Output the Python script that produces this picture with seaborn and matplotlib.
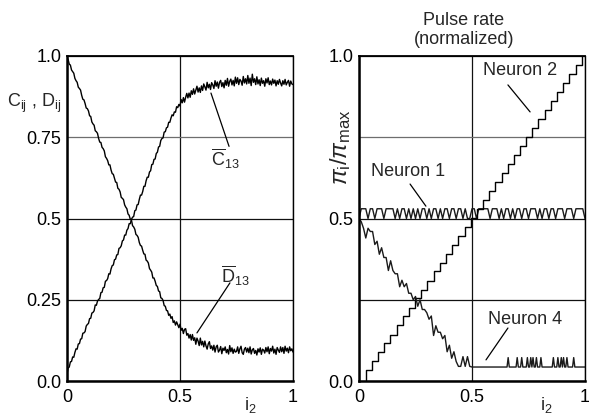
import numpy as np
import pandas as pd
import matplotlib
matplotlib.use('Agg')
import matplotlib.pyplot as plt
import seaborn as sns

# ---------------- data ----------------
i2_grid = np.linspace(0, 1, 201)

c13 = [
    0.022, 0.040, 0.043, 0.059, 0.060, 0.074, 0.073, 0.088, 0.099, 0.098,
    0.114, 0.115, 0.129, 0.130, 0.147, 0.148, 0.152, 0.169, 0.174, 0.177,
    0.192, 0.193, 0.209, 0.211, 0.216, 0.234, 0.233, 0.246, 0.251, 0.254,
    0.272, 0.273, 0.287, 0.288, 0.307, 0.309, 0.315, 0.330, 0.329, 0.345,
    0.355, 0.357, 0.373, 0.375, 0.388, 0.389, 0.408, 0.410, 0.416, 0.431,
    0.434, 0.449, 0.449, 0.464, 0.469, 0.484, 0.484, 0.497, 0.504, 0.506,
    0.524, 0.526, 0.542, 0.543, 0.559, 0.572, 0.572, 0.583, 0.599, 0.599,
    0.616, 0.627, 0.627, 0.643, 0.647, 0.666, 0.667, 0.682, 0.683, 0.700,
    0.704, 0.720, 0.722, 0.740, 0.746, 0.748, 0.766, 0.767, 0.779, 0.781,
    0.796, 0.796, 0.809, 0.819, 0.816, 0.828, 0.827, 0.844, 0.841, 0.851,
    0.846, 0.866, 0.856, 0.872, 0.858, 0.873, 0.885, 0.871, 0.886, 0.873,
    0.893, 0.882, 0.899, 0.883, 0.895, 0.907, 0.889, 0.902, 0.888, 0.908,
    0.894, 0.914, 0.905, 0.895, 0.919, 0.902, 0.913, 0.897, 0.918, 0.911,
    0.900, 0.924, 0.907, 0.920, 0.901, 0.919, 0.925, 0.906, 0.918, 0.902,
    0.925, 0.910, 0.931, 0.907, 0.922, 0.929, 0.911, 0.925, 0.908, 0.935,
    0.916, 0.933, 0.912, 0.928, 0.923, 0.910, 0.937, 0.917, 0.930, 0.914,
    0.940, 0.916, 0.932, 0.909, 0.944, 0.919, 0.930, 0.912, 0.936, 0.914,
    0.927, 0.909, 0.932, 0.916, 0.924, 0.907, 0.930, 0.917, 0.933, 0.912,
    0.923, 0.911, 0.929, 0.916, 0.926, 0.908, 0.924, 0.913, 0.928, 0.917,
    0.908, 0.924, 0.913, 0.928, 0.911, 0.919, 0.925, 0.907, 0.923, 0.914,
    0.912,
]

d13 = [
    0.995, 0.989, 0.975, 0.972, 0.957, 0.952, 0.947, 0.931, 0.924, 0.919,
    0.904, 0.900, 0.895, 0.879, 0.867, 0.865, 0.854, 0.840, 0.838, 0.831,
    0.816, 0.814, 0.797, 0.791, 0.787, 0.770, 0.767, 0.762, 0.746, 0.735,
    0.734, 0.719, 0.715, 0.708, 0.690, 0.685, 0.678, 0.665, 0.665, 0.649,
    0.638, 0.636, 0.624, 0.612, 0.611, 0.593, 0.590, 0.582, 0.565, 0.562,
    0.558, 0.542, 0.535, 0.530, 0.514, 0.510, 0.498, 0.496, 0.478, 0.474,
    0.467, 0.451, 0.448, 0.442, 0.426, 0.417, 0.415, 0.402, 0.391, 0.390,
    0.372, 0.369, 0.363, 0.346, 0.341, 0.335, 0.317, 0.317, 0.307, 0.294,
    0.291, 0.277, 0.275, 0.256, 0.254, 0.248, 0.232, 0.230, 0.217, 0.216,
    0.202, 0.206, 0.193, 0.198, 0.180, 0.185, 0.172, 0.182, 0.173, 0.164,
    0.175, 0.156, 0.162, 0.146, 0.159, 0.161, 0.141, 0.146, 0.132, 0.143,
    0.126, 0.143, 0.125, 0.133, 0.113, 0.132, 0.123, 0.109, 0.132, 0.111,
    0.122, 0.105, 0.123, 0.108, 0.098, 0.114, 0.121, 0.100, 0.108, 0.095,
    0.110, 0.089, 0.105, 0.110, 0.089, 0.095, 0.106, 0.084, 0.101, 0.094,
    0.105, 0.087, 0.097, 0.083, 0.109, 0.090, 0.102, 0.085, 0.098, 0.089,
    0.091, 0.105, 0.085, 0.099, 0.107, 0.087, 0.082, 0.098, 0.103, 0.089,
    0.101, 0.087, 0.105, 0.083, 0.096, 0.100, 0.085, 0.094, 0.080, 0.099,
    0.089, 0.102, 0.082, 0.098, 0.095, 0.086, 0.103, 0.090, 0.105, 0.084,
    0.100, 0.092, 0.107, 0.086, 0.098, 0.082, 0.103, 0.095, 0.088, 0.105,
    0.090, 0.103, 0.085, 0.107, 0.092, 0.101, 0.087, 0.105, 0.093, 0.099,
    0.089,
]

n1_x = np.linspace(0, 1, 101)
neuron1 = [
    0.50, 0.53, 0.53, 0.53, 0.50, 0.53, 0.53, 0.50, 0.53, 0.53,
    0.53, 0.50, 0.53, 0.53, 0.53, 0.53, 0.50, 0.53, 0.50, 0.53,
    0.53, 0.50, 0.53, 0.50, 0.53, 0.50, 0.53, 0.50, 0.53, 0.53,
    0.50, 0.53, 0.50, 0.53, 0.53, 0.50, 0.53, 0.50, 0.53, 0.53,
    0.50, 0.53, 0.53, 0.50, 0.53, 0.53, 0.50, 0.53, 0.50, 0.50,
    0.53, 0.53, 0.50, 0.53, 0.53, 0.53, 0.53, 0.53, 0.50, 0.53,
    0.53, 0.53, 0.50, 0.53, 0.50, 0.53, 0.53, 0.50, 0.53, 0.50,
    0.53, 0.53, 0.50, 0.53, 0.53, 0.50, 0.53, 0.53, 0.53, 0.50,
    0.53, 0.50, 0.53, 0.53, 0.50, 0.53, 0.53, 0.50, 0.53, 0.53,
    0.53, 0.50, 0.53, 0.53, 0.53, 0.50, 0.53, 0.53, 0.53, 0.53,
    0.50,
]

n2_x = [0.030, 0.030, 0.057, 0.085, 0.112, 0.139, 0.167, 0.194, 0.221, 0.248,
        0.276, 0.303, 0.330, 0.358, 0.385, 0.412, 0.440, 0.467, 0.494, 0.521,
        0.549, 0.576, 0.603, 0.631, 0.658, 0.685, 0.712, 0.740, 0.767, 0.794,
        0.822, 0.849, 0.876, 0.903, 0.931, 0.958, 0.985]
neuron2 = [0.0, 0.033, 0.061, 0.088, 0.116, 0.143, 0.171, 0.199, 0.226, 0.254,
           0.281, 0.309, 0.337, 0.364, 0.392, 0.419, 0.447, 0.475, 0.502, 0.530,
           0.557, 0.585, 0.613, 0.640, 0.668, 0.695, 0.723, 0.751, 0.778, 0.806,
           0.833, 0.861, 0.889, 0.916, 0.944, 0.971, 0.999]

n4_x = np.concatenate([np.linspace(0, 0.5, 51), np.linspace(0.505, 1.0, 100)])
neuron4 = [
    0.50, 0.49, 0.47, 0.44, 0.47, 0.46, 0.46, 0.42, 0.43, 0.39,
    0.41, 0.38, 0.38, 0.34, 0.37, 0.34, 0.33, 0.33, 0.29, 0.31,
    0.29, 0.30, 0.27, 0.27, 0.25, 0.26, 0.23, 0.25, 0.22, 0.22,
    0.21, 0.19, 0.20, 0.14, 0.17, 0.15, 0.15, 0.13, 0.14, 0.09,
    0.11, 0.07, 0.09, 0.06, 0.045, 0.045, 0.075, 0.045, 0.075, 0.045,
    0.043,
    0.043, 0.043, 0.043, 0.043, 0.043, 0.043, 0.043, 0.043, 0.043, 0.043,
    0.043, 0.043, 0.043, 0.043, 0.043, 0.043, 0.043, 0.043, 0.043, 0.043,
    0.043, 0.043, 0.043, 0.043, 0.043, 0.043, 0.043, 0.043, 0.043, 0.043,
    0.043, 0.072, 0.043, 0.043, 0.043, 0.043, 0.043, 0.043, 0.043, 0.072,
    0.043, 0.043, 0.043, 0.072, 0.043, 0.043, 0.043, 0.043, 0.072, 0.043,
    0.043, 0.072, 0.043, 0.072, 0.043, 0.043, 0.072, 0.043, 0.043, 0.043,
    0.072, 0.043, 0.043, 0.043, 0.043, 0.043, 0.043, 0.043, 0.043, 0.043,
    0.043, 0.072, 0.043, 0.043, 0.043, 0.072, 0.043, 0.043, 0.072, 0.043,
    0.072, 0.043, 0.043, 0.072, 0.043, 0.043, 0.043, 0.043, 0.043, 0.072,
    0.043, 0.043, 0.043, 0.043, 0.043, 0.043, 0.043, 0.043, 0.043, 0.043,
]

y_ticks = [0.0, 0.25, 0.5, 0.75, 1.0]
y_ticklabels = ['0.0', '0.25', '0.5', '0.75', '1.0']
y_ticklabels_r = ['0.0', '', '0.5', '', '1.0']
x_ticks = [0.0, 0.5, 1.0]
x_ticklabels = ['0', '0.5', '1']

# ---------------- style ----------------
sns.set_theme(style='white')
plt.rcParams['font.family'] = ['Liberation Sans', 'DejaVu Sans']
plt.rcParams['mathtext.fontset'] = 'custom'
plt.rcParams['mathtext.rm'] = 'Liberation Sans'
plt.rcParams['mathtext.it'] = 'Liberation Sans:italic'
plt.rcParams['mathtext.bf'] = 'Liberation Sans:bold'

W, H = 589, 416
fig = plt.figure(figsize=(W / 100, H / 100), dpi=100)
fig.patch.set_facecolor('white')


def ax_at(x0, y0, x1, y1):
    return fig.add_axes([x0 / W, 1 - y1 / H, (x1 - x0) / W, (y1 - y0) / H])


axL = ax_at(67, 56, 293, 381)
axR = ax_at(359, 56, 585, 381)

FS = 13
LC = 'black'
LW = 1.0

for ax, ytl in ((axL, y_ticklabels), (axR, y_ticklabels_r)):
    ax.set_xlim(0, 1)
    ax.set_ylim(0, 1)
    ax.set_facecolor('white')
    ax.set_xticks(x_ticks)
    ax.set_xticklabels(x_ticklabels)
    ax.set_yticks(y_ticks)
    ax.set_yticklabels(ytl)
    ax.tick_params(axis='both', length=0, labelsize=FS, colors='black')
    ax.tick_params(axis='y', pad=4)
    ax.tick_params(axis='x', pad=6)
    ax.grid(True, color='#111111', lw=0.9)
    ax.set_axisbelow(True)
    for name, sp in ax.spines.items():
        sp.set_visible(True)
        sp.set_color('black')
    ax.spines['left'].set_linewidth(1.8)
    ax.spines['bottom'].set_linewidth(1.8)
    ax.spines['top'].set_linewidth(1.3)
    ax.spines['right'].set_linewidth(1.0)
    ax.yaxis.get_gridlines()[3].set_color('#6e6e6e')

# ---------------- left panel curves ----------------
dfL = pd.DataFrame({'i2': i2_grid, 'C13': c13, 'D13': d13})
sns.lineplot(data=dfL, x='i2', y='C13', ax=axL, color=LC, lw=LW,
             estimator=None, sort=False, legend=False)
sns.lineplot(data=dfL, x='i2', y='D13', ax=axL, color=LC, lw=LW,
             estimator=None, sort=False, legend=False)

# ---------------- right panel curves ----------------
sns.lineplot(x=n1_x, y=neuron1, ax=axR, color='#1a1a1a', lw=LW,
             estimator=None, sort=False, legend=False)
sns.lineplot(x=n2_x, y=neuron2, ax=axR, color=LC, lw=LW,
             estimator=None, sort=False, legend=False, drawstyle='steps-post')
sns.lineplot(x=n4_x, y=neuron4, ax=axR, color='#1a1a1a', lw=LW,
             estimator=None, sort=False, legend=False)

for ax in (axL, axR):
    ax.set_xlabel('')
    ax.set_ylabel('')

# ---------------- annotations ----------------
lead = dict(arrowstyle='-', color='black', lw=0.9, shrinkA=0, shrinkB=0)


def leader(ax, p0, p1):
    ax.annotate('', xy=p1, xytext=p0, arrowprops=lead)


axL.text(0.70, 0.683, r'$\overline{\mathrm{C}}_{\mathrm{13}}$', fontsize=FS,
         ha='center', va='center')
leader(axL, (0.717, 0.722), (0.637, 0.886))
axL.text(0.745, 0.325, r'$\overline{\mathrm{D}}_{\mathrm{13}}$', fontsize=FS,
         ha='center', va='center')
leader(axL, (0.721, 0.302), (0.575, 0.148))

axR.text(0.712, 0.954, 'Neuron 2', fontsize=FS, ha='center', va='center')
leader(axR, (0.659, 0.911), (0.757, 0.828))
axR.text(0.217, 0.646, 'Neuron 1', fontsize=FS, ha='center', va='center')
leader(axR, (0.226, 0.606), (0.296, 0.538))
axR.text(0.735, 0.188, 'Neuron 4', fontsize=FS, ha='center', va='center')
leader(axR, (0.659, 0.163), (0.562, 0.065))

# axis labels
axL.text(0.81, -0.075, r'i$_2$', transform=axL.transAxes, fontsize=FS,
         ha='center', va='center')
axR.text(0.83, -0.075, r'i$_2$', transform=axR.transAxes, fontsize=FS,
         ha='center', va='center')

fig.text(7 / W, 1 - 103 / H, r'C$_{\mathrm{ij}}$ , D$_{\mathrm{ij}}$', fontsize=FS,
         ha='left', va='center')
fig.text(341 / W, 1 - 147 / H, r'$\pi_{\mathrm{i}}/\pi_{\mathrm{max}}$', fontsize=17,
         ha='center', va='center', rotation=90)
fig.text(464 / W, 1 - 30 / H, 'Pulse rate\n(normalized)', fontsize=FS,
         ha='center', va='center', linespacing=1.2)

fig.savefig('out.png', dpi=100, facecolor='white')
